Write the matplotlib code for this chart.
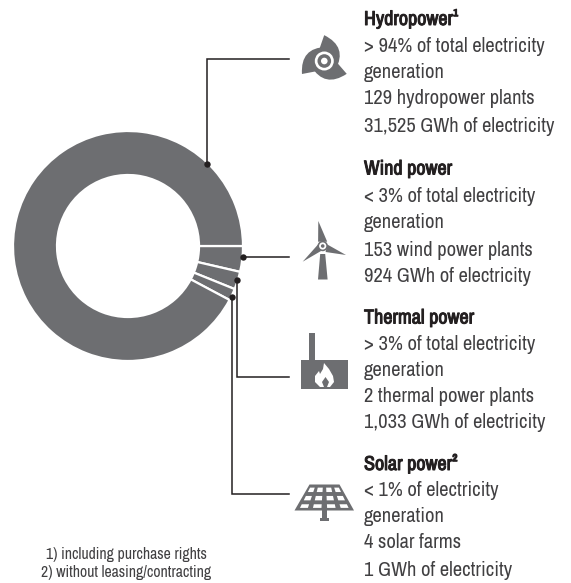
import numpy as np
import matplotlib
matplotlib.use("Agg")
import matplotlib.pyplot as plt
import matplotlib.patheffects as pe
from matplotlib import font_manager as fm
from matplotlib.patches import Polygon, Circle, Rectangle, PathPatch
from matplotlib.path import Path

# Archivo Narrow is not in the documented font list, so fall back to Roboto at a smaller size
installed = {f.name for f in fm.fontManager.ttflist}
if "Archivo Narrow" in installed:
    FAMILY, BODY, HEAD, NOTE = "Archivo Narrow", 14.8, 14.5, 11.3
else:
    FAMILY, BODY, HEAD, NOTE = "Roboto", 12.0, 12.5, 9.2
plt.rcParams["font.family"] = [FAMILY, "DejaVu Sans"]

# ring shares as drawn (degrees of the ring, it is not to scale with the GWh)
sources = ["Wind power", "Thermal power", "Solar power", "Hydropower"]
ring_shares = [13, 9, 6, 332]

headings = ["Hydropower¹", "Wind power", "Thermal power", "Solar power²"]
details = [
    ["> 94% of total electricity", "generation", "129 hydropower plants", "31,525 GWh of electricity"],
    ["< 3% of total electricity", "generation", "153 wind power plants", "924 GWh of electricity"],
    ["> 3% of total electricity", "generation", "2 thermal power plants", "1,033 GWh of electricity"],
    ["< 1% of electricity", "generation", "4 solar farms", "1 GWh of electricity"],
]
footnotes = ["1) including purchase rights", "2) without leasing/contracting"]

GREY = "#6d6e71"
INK = "#231f20"
TEXT = "#414042"
W, H = 571, 583

fig = plt.figure(figsize=(W / 100, H / 100), dpi=100)

# Donut, placed in pixels
cx, cy, r_out, r_in = 128, 246, 115, 71
ax_pie = fig.add_axes([(cx - r_out) / W, 1 - (cy + r_out) / H, 2 * r_out / W, 2 * r_out / H])
ax_pie.pie(
    ring_shares,
    startangle=0,
    counterclock=False,
    radius=1,
    colors=[GREY] * 4,
    wedgeprops=dict(width=(r_out - r_in) / r_out, edgecolor="white", linewidth=1.6),
)
ax_pie.set_xlim(-1, 1)
ax_pie.set_ylim(-1, 1)

# Overlay in pixel coordinates
ax = fig.add_axes([0, 0, 1, 1])
ax.set_xlim(0, W)
ax.set_ylim(H, 0)
ax.axis("off")
ax.patch.set_alpha(0)

# Leader lines
leaders = [
    [(207, 164), (207, 59), (289, 59)],
    [(242.5, 257), (289, 257)],
    [(237, 279.5), (237, 377), (289, 377)],
    [(231.5, 296.5), (231.5, 493.5), (289, 493.5)],
]
for pts in leaders:
    xs, ys = zip(*pts)
    ax.plot(xs, ys, color=INK, lw=1.1, solid_joinstyle="miter", zorder=3)
    ax.plot(xs[0], ys[0], "o", color=INK, ms=4.6, mew=0, zorder=4)


def hydro_icon(c=(324.3, 61)):
    blade = np.array([(-67, 39), (-72, -40), (5, -42), (30, 0), (-20, 30), (-67, 39)]) / 3
    codes = [Path.MOVETO, Path.CURVE3, Path.CURVE3, Path.LINETO, Path.LINETO, Path.CLOSEPOLY]
    for deg in (0, 120, 240):
        a = np.radians(deg)
        rot = np.array([[np.cos(a), -np.sin(a)], [np.sin(a), np.cos(a)]])
        ax.add_patch(PathPatch(Path(blade @ rot.T + c, codes), fc=GREY, ec="none"))
    ax.add_patch(Circle(c, 9.5, fc="white", ec="none"))
    ax.add_patch(Circle(c, 6.8, fc=GREY, ec="none"))
    ax.add_patch(Circle(c, 3.3, fc="white", ec="none"))


def wind_icon():
    ax.add_patch(Polygon([(320.2, 254), (325.2, 254), (327.6, 279.5), (318, 279.5)], fc=GREY, ec="none"))
    ax.add_patch(Polygon([(318.3, 221), (327.2, 241.7), (318.1, 241.7)], fc=GREY, ec="none"))
    ax.add_patch(Polygon([(346, 255), (327.3, 244.5), (325.6, 252)], fc=GREY, ec="none"))
    ax.add_patch(Polygon([(302.7, 261.7), (318, 244.5), (321, 251)], fc=GREY, ec="none"))
    ax.add_patch(Circle((322.7, 246), 5.2, fc=GREY, ec="none"))
    ax.add_patch(Circle((322.7, 246), 3.6, fc="white", ec="none"))
    ax.add_patch(Circle((322.7, 246), 1.8, fc=GREY, ec="none"))


def thermal_icon():
    ax.add_patch(Rectangle((301, 359.5), 46.5, 29, fc=GREY, ec="none"))
    ax.add_patch(Rectangle((308.5, 333), 6, 27, fc=GREY, ec="none"))
    flame = [(324, 363), (329, 369), (333, 376), (334, 382), (330, 387), (327, 387), (329, 382),
             (325.5, 377), (322, 382), (324, 387), (320, 387), (315, 382), (315, 376), (319, 371),
             (320, 374), (323, 369)]
    ax.add_patch(Polygon(flame, fc="white", ec="none"))


def solar_icon():
    tl, tr, bl, br = np.array([(309.5, 484.5), (339.5, 484.5), (294.5, 510.5), (354, 510.5)])
    ax.add_patch(Polygon([tl, tr, br, bl], fc=GREY, ec="none"))
    ax.add_patch(Rectangle((321.5, 510), 5, 9, fc=GREY, ec="none"))
    ax.add_patch(Rectangle((319.5, 518), 9.5, 3, fc=GREY, ec="none"))
    rows = [(0.12, 0.29), (0.44, 0.61), (0.76, 0.90)]
    cols = [(0.07, 0.21), (0.30, 0.45), (0.55, 0.70), (0.79, 0.93)]

    def pt(u, v):
        return (tl + (tr - tl) * u) * (1 - v) + (bl + (br - bl) * u) * v

    for v0, v1 in rows:
        for u0, u1 in cols:
            ax.add_patch(Polygon([pt(u0, v0), pt(u1, v0), pt(u1, v1), pt(u0, v1)], fc="white", ec="none"))


hydro_icon()
wind_icon()
thermal_icon()
solar_icon()

# Text blocks, the narrow face has no bold cut so headings get a thin stroke
heading_y = [19, 169, 318, 464]
detail_y = [[46, 72, 99, 126], [197, 223, 250, 276], [344, 370, 397, 423], [491, 517, 543, 570]]
bold = [pe.withStroke(linewidth=0.7, foreground=INK)]
for head, hy, lines, ys in zip(headings, heading_y, details, detail_y):
    ax.text(364, hy, head, fontsize=HEAD, fontweight="bold", color=INK, va="center", ha="left", path_effects=bold)
    for line, y in zip(lines, ys):
        ax.text(364, y, line, fontsize=BODY, color=TEXT, va="center", ha="left")

for note, y in zip(footnotes, [555, 572]):
    ax.text(126, y, note, fontsize=NOTE, color=TEXT, va="center", ha="center")

fig.savefig("out.png", dpi=100)
